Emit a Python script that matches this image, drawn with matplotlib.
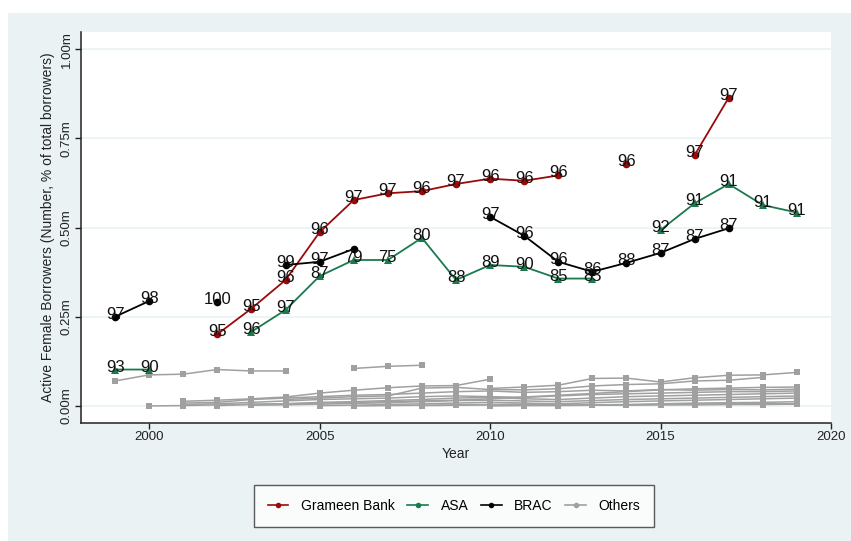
import numpy as np
import matplotlib
matplotlib.use("Agg")
import matplotlib.pyplot as plt
from matplotlib.lines import Line2D
from matplotlib.patches import Rectangle

plt.rcParams["font.family"] = ["Liberation Sans", "DejaVu Sans"]

nan = np.nan
years = list(range(1999, 2020))

# Active female borrowers (millions) and share of female borrowers (%)
grameen = [nan, nan, nan, 0.201, 0.273, 0.353, 0.487, 0.577, 0.596, 0.602, 0.622,
           0.637, 0.631, 0.646, nan, 0.677, nan, 0.703, 0.864, nan, nan]
grameen_pct = [None, None, None, 95, 95, 96, 96, 97, 97, 96, 97,
               96, 96, 96, None, 96, None, 97, 97, None, None]

asa = [0.102, 0.102, nan, nan, 0.208, 0.269, 0.364, 0.409, 0.409, 0.471, 0.353,
       0.395, 0.390, 0.357, 0.357, nan, 0.493, 0.568, 0.622, 0.563, 0.542]
asa_pct = [93, 90, None, None, 96, 97, 87, 79, 75, 80, 88,
           89, 90, 85, 85, None, 92, 91, 91, 91, 91]

brac = [0.250, 0.294, nan, 0.292, nan, 0.395, 0.404, 0.440, nan, nan, nan,
        0.530, 0.477, 0.404, 0.376, 0.401, 0.429, 0.468, 0.498, nan, nan]
brac_pct = [97, 98, None, 100, None, 99, 97, None, None, None, None,
            97, 96, 96, 86, 88, 87, 87, 87, None, None]

# Other institutions: (first year, yearly values in millions)
other_a = (1999, [0.070, 0.087, 0.089, 0.102, 0.098, 0.098])
other_b = (2006, [0.105, 0.111, 0.114])
other_c = (2001, [0.013, 0.016, 0.020, 0.025, 0.036, 0.044, 0.051, 0.056, 0.057, 0.075])
other_d = (2010, [0.049, 0.053, 0.058, 0.077, 0.078, 0.067, 0.079, 0.086, 0.087, 0.094])
other_e = (2004, [0.018, 0.022, 0.026, 0.028, 0.050, 0.052, 0.046, 0.045, 0.048,
                  0.056, 0.060, 0.062, 0.070, 0.072, 0.080])
other_f = (2000, [0.000, 0.001, 0.003, 0.005, 0.006, 0.008, 0.010, 0.012, 0.014, 0.016,
                  0.020, 0.025, 0.030, 0.035, 0.040, 0.045, 0.048, 0.050, 0.052, 0.053])
other_g = (2001, [0.008, 0.010, 0.018, 0.022, 0.026, 0.030, 0.032, 0.036, 0.040, 0.042,
                  0.038, 0.040, 0.044, 0.042, 0.046, 0.044, 0.046, 0.045, 0.047])
other_h = (2001, [0.004, 0.006, 0.010, 0.014, 0.018, 0.020, 0.022, 0.026, 0.028, 0.026,
                  0.024, 0.028, 0.032, 0.034, 0.036, 0.038, 0.040, 0.040, 0.042])
other_i = (2002, [0.001, 0.004, 0.006, 0.010, 0.012, 0.015, 0.018, 0.022, 0.024, 0.020,
                  0.018, 0.022, 0.026, 0.028, 0.030, 0.032, 0.034, 0.036])
other_j = (2003, [0.002, 0.003, 0.005, 0.007, 0.009, 0.012, 0.015, 0.016, 0.014, 0.012,
                  0.015, 0.018, 0.020, 0.022, 0.024, 0.026, 0.028])
other_k = (2005, [0.001, 0.002, 0.004, 0.006, 0.008, 0.010, 0.008, 0.006, 0.009, 0.012,
                  0.014, 0.016, 0.018, 0.020, 0.022])
other_l = (2006, [0.000, 0.001, 0.002, 0.003, 0.004, 0.005, 0.004, 0.003, 0.004, 0.006,
                  0.008, 0.009, 0.010, 0.012])
other_m = (2008, [0.001, 0.002, 0.003, 0.003, 0.002, 0.002, 0.003, 0.004, 0.005, 0.006,
                  0.007, 0.006])
other_n = (2010, [0.000, 0.001, 0.001, 0.002, 0.002, 0.003, 0.003, 0.004, 0.004, 0.005])
others = [other_a, other_b, other_c, other_d, other_e, other_f, other_g,
          other_h, other_i, other_j, other_k, other_l, other_m, other_n]

y_ticks = [0.0, 0.25, 0.5, 0.75, 1.0]
y_ticklabels = ["0.00m", "0.25m", "0.50m", "0.75m", "1.00m"]
x_ticks = [2000, 2005, 2010, 2015, 2020]

RED = "#9A0A0A"
GREEN = "#1A7A4C"
BLACK = "#000000"
GREY = "#A0A0A0"
BG = "#EAF2F3"

W, H = 851, 541
fig = plt.figure(figsize=(W / 100, H / 100), dpi=100, facecolor="white")
fig.patches.append(Rectangle((8 / W, 0), 1 - 8 / W, 1 - 13 / H,
                             transform=fig.transFigure, facecolor=BG,
                             edgecolor="none", zorder=-10))

ax = fig.add_axes([81 / W, (H - 422.7) / H, 750 / W, (422.7 - 32) / H])
ax.set_facecolor("white")
ax.set_xlim(1998, 2020)
ax.set_ylim(-0.047, 1.048)

for gy in y_ticks:
    ax.axhline(gy, color=BG, lw=1.2, zorder=0)

for start, vals in others:
    xs = list(range(start, start + len(vals)))
    ax.plot(xs, vals, color=GREY, lw=1.1, marker="s", markersize=5,
            markeredgewidth=0, zorder=2)

def draw_series(vals, pct, color, marker, ms):
    ax.plot(years, vals, color=color, lw=1.3, marker=marker, markersize=ms,
            markeredgewidth=0, zorder=3)
    for x, v, p in zip(years, vals, pct):
        if p is None or np.isnan(v):
            continue
        ax.annotate(str(p), (x, v), xytext=(0, -2), textcoords="offset pixels",
                    ha="center", va="baseline", fontsize=12, color="#111111",
                    zorder=5)

draw_series(grameen, grameen_pct, RED, "o", 5.5)
draw_series(asa, asa_pct, GREEN, "^", 6)
draw_series(brac, brac_pct, BLACK, "o", 5.5)

for side in ("top", "right"):
    ax.spines[side].set_visible(False)
for side in ("left", "bottom"):
    ax.spines[side].set_color("#222222")
    ax.spines[side].set_linewidth(1.1)

ax.set_yticks(y_ticks)
ax.set_yticklabels(y_ticklabels, rotation=90, va="center")
ax.set_xticks(x_ticks)
ax.tick_params(axis="both", direction="out", length=4, width=1.0,
               color="#222222", labelsize=9.5, labelcolor="#222222", pad=2)
ax.set_xlabel("Year", fontsize=10, color="#222222", labelpad=3)
ax.set_ylabel("Active Female Borrowers (Number, % of total borrowers)",
              fontsize=10, color="#222222", labelpad=4)

handles = [Line2D([0], [0], color=c, lw=1.2, marker="o", markersize=4,
                  markeredgewidth=0) for c in (RED, GREEN, BLACK, GREY)]
leg = fig.legend(handles, ["Grameen Bank", "ASA", "BRAC", "Others"],
                 loc="center", bbox_to_anchor=(454 / W, (H - 506) / H),
                 ncol=4, fontsize=10, frameon=True, fancybox=False,
                 handlelength=1.5, handletextpad=0.9, columnspacing=0.9,
                 borderpad=1.0)
leg.get_frame().set_edgecolor("#333333")
leg.get_frame().set_linewidth(1.0)
leg.get_frame().set_facecolor("white")

fig.savefig("out.png", dpi=100, facecolor=fig.get_facecolor())
